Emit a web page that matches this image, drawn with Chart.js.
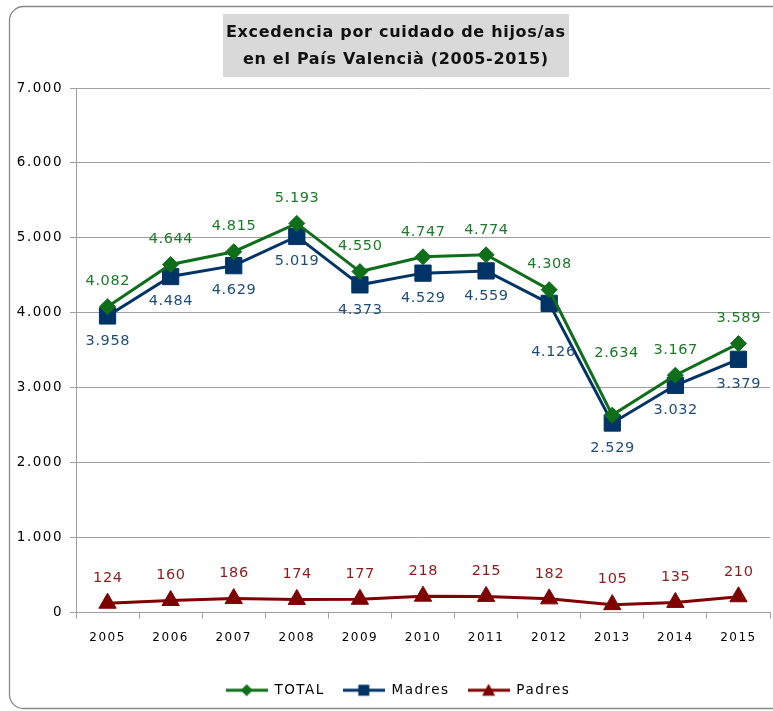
<!DOCTYPE html>
<html>
<head>
<meta charset="utf-8">
<script src="https://cdn.jsdelivr.net/npm/chart.js@4/dist/chart.umd.min.js"></script>
<style>
  html, body { margin: 0; padding: 0; background: #ffffff; }
  #wrap { width: 773px; height: 711px; }
</style>
</head>
<body>
<div id="wrap"><canvas id="c" width="773" height="711"></canvas></div>
<script>
// Series: leave of absence for childcare, Valencian Country, 2005-2015
const years = ['2005', '2006', '2007', '2008', '2009', '2010', '2011', '2012', '2013', '2014', '2015'];
const totalValues  = [4082, 4644, 4815, 5193, 4550, 4747, 4774, 4308, 2634, 3167, 3589];
const madresValues = [3958, 4484, 4629, 5019, 4373, 4529, 4559, 4126, 2529, 3032, 3379];
const padresValues = [124, 160, 186, 174, 177, 218, 215, 182, 105, 135, 210];
const seriesNames  = ['TOTAL', 'Madres', 'Padres'];
const yMin = 0, yMax = 7000, yStep = 1000;
const titleLines = ['Excedencia por cuidado de hijos/as', 'en el País Valencià (2005-2015)'];

const GREEN = '#0f6e1a', GREEN_TXT = '#1b7a27';
const NAVY = '#003366', NAVY_TXT = '#1f4d7a';
const RED = '#7f0000', RED_TXT = '#8e1b1b';
const FONT = '"DejaVu Sans", Verdana, sans-serif';

// value label placement per series (above / below the point)
const LABEL_GAP = 25;
const labelSeries = [
  { color: GREEN_TXT, side: 'above' },
  { color: NAVY_TXT, side: 'below' },
  { color: RED_TXT, side: 'above' }
];
// labels moved off the line where they would collide with it
const labelMoves = [
  { 8: { dx: 4, dy: -37 } },
  { 7: { dx: 4, dy: 24 } },
  {}
];

// thousands separator with a dot
const fmt = n => String(n).replace(/\B(?=(\d{3})+(?!\d))/g, '.');

// legend icon: short line with the series marker in the middle
function legendIcon(color, shape) {
  const c = document.createElement('canvas');
  c.width = 42; c.height = 16;
  const g = c.getContext('2d');
  g.strokeStyle = color; g.fillStyle = color; g.lineWidth = 3;
  g.beginPath(); g.moveTo(0, 8); g.lineTo(42, 8); g.stroke();
  g.beginPath();
  if (shape === 'diamond') {
    g.moveTo(21, 2); g.lineTo(27, 8); g.lineTo(21, 14); g.lineTo(15, 8);
  } else if (shape === 'square') {
    g.rect(15.5, 2.5, 11, 11);
  } else {
    g.moveTo(21, 1.5); g.lineTo(27.5, 13.5); g.lineTo(14.5, 13.5);
  }
  g.closePath(); g.fill();
  return c;
}
const legendIcons = [legendIcon(GREEN, 'diamond'), legendIcon(NAVY, 'square'), legendIcon(RED, 'triangle')];

// rounded frame + grey title box
const frameAndTitle = {
  id: 'frameAndTitle',
  beforeDraw(chart) {
    const ctx = chart.ctx;
    ctx.save();
    ctx.strokeStyle = '#8a8a8a';
    ctx.lineWidth = 1.3;
    ctx.beginPath();
    ctx.roundRect(9.5, 6.5, 800, 702, 14);
    ctx.stroke();
    ctx.restore();
  },
  afterDraw(chart) {
    const ctx = chart.ctx;
    ctx.save();
    ctx.font = 'bold 16px ' + FONT;
    ctx.letterSpacing = '0.7px';
    const w = Math.max(...titleLines.map(t => ctx.measureText(t).width));
    const cx = 395.5;
    ctx.fillStyle = '#d9d9d9';
    ctx.fillRect(Math.round(cx - w / 2 - 3), 14, Math.round(w + 6), 63);
    ctx.fillStyle = '#111111';
    ctx.textAlign = 'center';
    ctx.textBaseline = 'middle';
    titleLines.forEach((t, i) => ctx.fillText(t, cx + 0.35, 33 + i * 27));
    ctx.restore();
  }
};

// value labels next to every point
const pointLabels = {
  id: 'pointLabels',
  afterDatasetsDraw(chart) {
    const ctx = chart.ctx;
    chart.data.datasets.forEach((ds, di) => {
      const meta = chart.getDatasetMeta(di);
      const cfg = labelSeries[di];
      const moves = labelMoves[di];
      ctx.save();
      ctx.font = '14.5px ' + FONT;
      ctx.letterSpacing = '0.6px';
      ctx.fillStyle = cfg.color;
      ctx.textAlign = 'center';
      ctx.textBaseline = 'middle';
      meta.data.forEach((pt, i) => {
        const m = moves[i] || { dx: 0, dy: 0 };
        const dy = cfg.side === 'above' ? -LABEL_GAP : LABEL_GAP;
        ctx.fillText(fmt(ds.data[i]), pt.x + 0.3 + m.dx, pt.y + dy + m.dy);
      });
      ctx.restore();
    });
  }
};

// wider letter spacing for axis and legend text; legend nudged right
const spacing = {
  id: 'spacing',
  beforeUpdate(chart) { chart.ctx.letterSpacing = '1.5px'; },
  afterLayout(chart) {
    if (chart.legend) { chart.legend.left += 9; chart.legend.right += 9; }
  },
  beforeDraw(chart) { chart.ctx.letterSpacing = '1.5px'; }
};

new Chart(document.getElementById('c'), {
  type: 'line',
  data: {
    labels: years,
    datasets: [
      {
        label: seriesNames[0], data: totalValues,
        borderColor: GREEN, backgroundColor: GREEN, borderWidth: 3,
        pointStyle: 'rectRot', pointRadius: 8, pointHoverRadius: 8,
        pointBackgroundColor: GREEN, pointBorderColor: GREEN, pointBorderWidth: 1
      },
      {
        label: seriesNames[1], data: madresValues,
        borderColor: NAVY, backgroundColor: NAVY, borderWidth: 3,
        pointStyle: 'rect', pointRadius: 11.5, pointHoverRadius: 11.5,
        pointBackgroundColor: NAVY, pointBorderColor: NAVY, pointBorderWidth: 1
      },
      {
        label: seriesNames[2], data: padresValues,
        borderColor: RED, backgroundColor: RED, borderWidth: 3,
        pointStyle: 'triangle', pointRadius: 10, pointHoverRadius: 10,
        pointBackgroundColor: RED, pointBorderColor: RED, pointBorderWidth: 1
      }
    ]
  },
  options: {
    responsive: false,
    devicePixelRatio: 1,
    animation: false,
    layout: { autoPadding: false, padding: { left: 8, right: 3, top: 88, bottom: 4 } },
    elements: { line: { tension: 0 } },
    scales: {
      x: {
        offset: true,
        grid: { drawOnChartArea: false, drawTicks: true, tickLength: 6, color: '#a0a0a0', offset: true },
        border: { color: '#a0a0a0', width: 1 },
        ticks: { color: '#000', font: { family: FONT, size: 12 }, padding: 12, maxRotation: 0 },
        afterFit(scale) { scale.height = 53; }
      },
      y: {
        min: yMin, max: yMax,
        grid: { color: '#a0a0a0', tickLength: 6, lineWidth: 1 },
        border: { color: '#a0a0a0', width: 1 },
        ticks: {
          stepSize: yStep, color: '#000', padding: 7,
          font: { family: FONT, size: 13.5 },
          callback: v => fmt(v)
        },
        afterFit(scale) { scale.width = 68; }
      }
    },
    plugins: {
      title: { display: false },
      tooltip: { enabled: false },
      legend: {
        position: 'bottom',
        labels: {
          usePointStyle: true,
          pointStyleWidth: 42,
          boxHeight: 16,
          padding: 18,
          color: '#000',
          font: { family: FONT, size: 13.5 },
          generateLabels: chart => chart.data.datasets.map((ds, i) => ({
            text: ds.label, pointStyle: legendIcons[i],
            fillStyle: ds.borderColor, strokeStyle: ds.borderColor,
            lineWidth: 0, hidden: false, datasetIndex: i
          }))
        }
      }
    }
  },
  plugins: [spacing, frameAndTitle, pointLabels]
});
</script>
</body>
</html>
